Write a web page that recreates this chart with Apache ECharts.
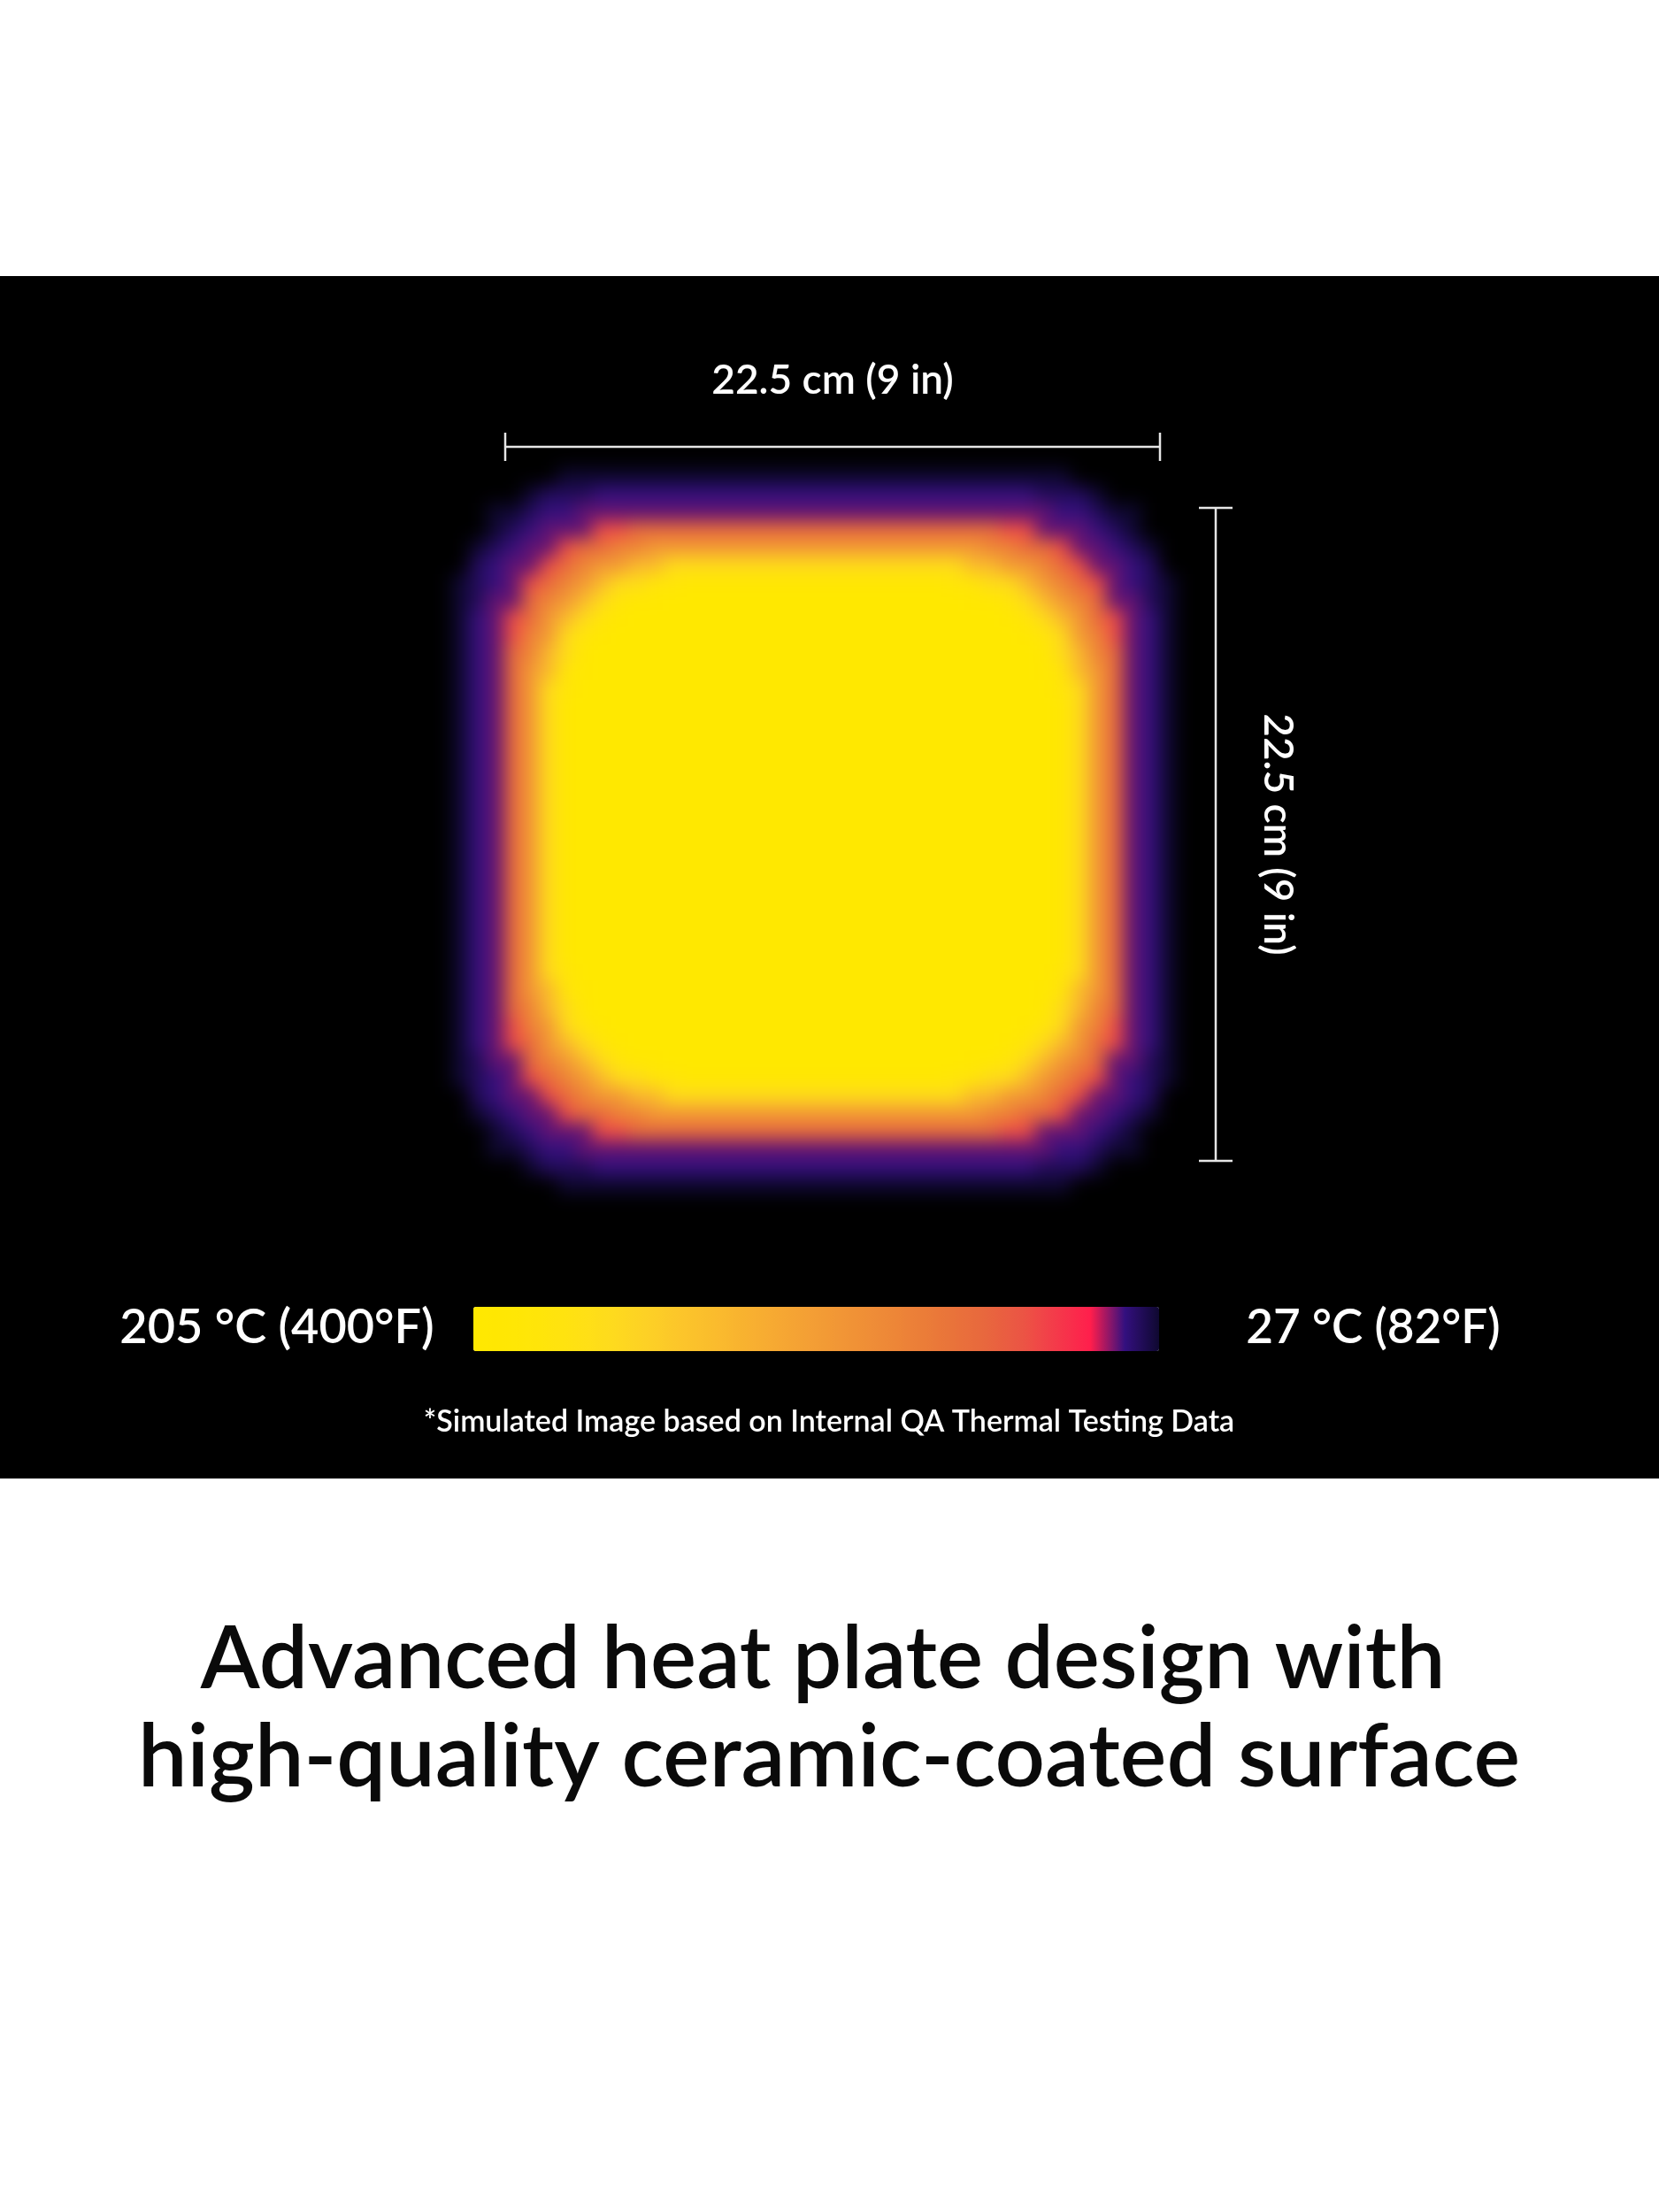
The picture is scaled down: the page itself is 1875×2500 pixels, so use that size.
<!DOCTYPE html>
<html>
<head>
<meta charset="utf-8">
<script src="https://cdn.jsdelivr.net/npm/echarts@6/dist/echarts.min.js"></script>
<style>
  html, body { margin: 0; padding: 0; background: #ffffff; }
  #main { position: absolute; left: 0; top: 0; width: 1875px; height: 2500px; }
  #heat { position: absolute; left: 450px; top: 470px; width: 940px; height: 940px;
          filter: blur(10px); pointer-events: none; }
</style>
</head>
<body>
<div id="main"></div>
<div id="heat"></div>
<script>
// ---------------- data ----------------
const tempMaxC = 205;
const tempMinC = 27;
const scaleLabels = ['205 °C (400°F)', '27 °C (82°F)'];
const plateWidthCm = 22.5;
const plateHeightCm = 22.5;
const widthLabel = '22.5 cm (9 in)';
const heightLabel = '22.5 cm (9 in)';
const footnote = '*Simulated Image based on Internal QA Thermal Testing Data';
const headline = ['Advanced heat plate design with', 'high-quality ceramic-coated surface'];

// colour scale, from coldest (27 °C) to hottest (205 °C)
const palette = ['#0f0830', '#33107f', '#ff1e4c', '#f43a4a', '#eb5544', '#e8663e', '#e9733a',
                 '#eb7e38', '#ee8937', '#f09336', '#f39d35', '#f6a733', '#f8b130', '#fabc2d',
                 '#fcc62a', '#fdd125', '#fedb1d', '#ffe113', '#ffe50a', '#ffe704', '#ffe800'];

// temperature (°C) of each level code
const levelTemps = { h: 27, z: 32, a: 36, b: 38, c: 38, d: 60, e: 75, f: 95, g: 112,
                     i: 140, j: 170, k: 188, m: 200, Y: 205 };

// plate surface, one string per row of 20 px cells ('.' = no plate)
const row00 = '......' + 'hhhhhhhhhh' + 'hhhhhhhhhh' + 'hhhhhhhhh' + '......';
const row01 = '....' + 'h' + 'zzz' + 'aaaaaaaaaa' + 'aaaaaaaaaa' + 'aaaaa' + 'zzz' + 'h' + '....';
const row02 = '..' + 'hh' + 'z' + 'aa' + 'bb' + 'cccccccccc' + 'cccccccccc' + 'ccc' + 'bb' + 'aa' + 'z' + 'hh' + '..';
const row03 = '..' + 'h' + 'z' + 'a' + 'b' + 'cc' + 'dd' + 'eeeeeeeeee' + 'eeeeeeeeee' + 'e' + 'dd' + 'cc' + 'b' + 'a' + 'z' + 'h' + '..';
const row04 = '.' + 'h' + 'z' + 'a' + 'b' + 'c' + 'd' + 'ee' + 'ff' + 'gggggggggg' + 'ggggggggg' + 'ff' + 'ee' + 'd' + 'c' + 'b' + 'a' + 'z' + 'h' + '.';
const row05 = '.' + 'z' + 'abcdef' + 'gg' + 'ii' + 'jjjjjjjjjj' + 'jjjjjjj' + 'ii' + 'gg' + 'fedcba' + 'z' + '.';
const row06 = 'h' + 'z' + 'acdefgi' + 'jj' + 'kk' + 'mmmmmmmmmm' + 'mmmmm' + 'kk' + 'jj' + 'igfedca' + 'z' + 'h';
const row07 = 'h' + 'z' + 'bcefgijk' + 'mm' + 'YYYYYYYYYY' + 'YYYYYYY' + 'mm' + 'kjigfecb' + 'z' + 'h';
const row08 = 'habdegijkm' + 'YYYYYYYYYY' + 'YYYYYYYYYY' + 'Y' + 'mkjigedbah';
const row09 = 'hacdfgjkm' + 'YYYYYYYYYY' + 'YYYYYYYYYY' + 'YYY' + 'mkjgfdcah';
const row10 = 'hacefijm' + 'YYYYYYYYYY' + 'YYYYYYYYYY' + 'YYYYY' + 'mjifecah';
const row11 = 'hacegikm' + 'YYYYYYYYYY' + 'YYYYYYYYYY' + 'YYYYY' + 'mkigecah';
const row12 = 'hacegjk' + 'YYYYYYYYYY' + 'YYYYYYYYYY' + 'YYYYYYY' + 'kjgecah';
const rowMid = 'hacegjm' + 'YYYYYYYYYY' + 'YYYYYYYYYY' + 'YYYYYYY' + 'mjgecah';

const plateRows = [
  row00, row01, row02, row03, row04, row05, row06, row07, row08, row09, row10, row11, row12,
  rowMid, rowMid, rowMid, rowMid, rowMid, rowMid, rowMid, rowMid,
  rowMid, rowMid, rowMid, rowMid, rowMid, rowMid, rowMid,
  row12, row11, row10, row09, row08, row07, row06, row05, row04, row03, row02, row01, row00
];

// ---------------- heat plate ----------------
const nCols = plateRows[0].length;
const colCats = [];
for (let c = 0; c < nCols; c++) colCats.push(String(c));
const rowCats = plateRows.map((_, r) => String(r));
const heatData = [];
plateRows.forEach((row, r) => {
  for (let c = 0; c < row.length; c++) {
    const ch = row[c];
    if (ch !== '.') heatData.push([c, r, levelTemps[ch]]);
  }
});

const heat = echarts.init(document.getElementById('heat'), null, { renderer: 'canvas' });
heat.setOption({
  animation: false,
  grid: { left: 60, top: 59, width: 820, height: 820 },
  xAxis: { type: 'category', data: colCats, show: false },
  yAxis: { type: 'category', data: rowCats, inverse: true, show: false },
  visualMap: { show: false, min: tempMinC, max: tempMaxC, dimension: 2, seriesIndex: 0,
               inRange: { color: palette } },
  series: [{ type: 'heatmap', data: heatData, itemStyle: { borderWidth: 0 },
             emphasis: { disabled: true }, silent: true }]
});

// ---------------- main figure ----------------
const FONT = 'Lato';
const dimColor = '#e6e6e6';
const main = echarts.init(document.getElementById('main'), null, { renderer: 'canvas' });
main.setOption({
  animation: false,
  backgroundColor: '#ffffff',
  graphic: [{ type: 'rect', silent: true, z: -10,
              shape: { x: 0, y: 312, width: 1875, height: 1359 }, style: { fill: '#000000' } }],
  title: [
    { text: scaleLabels[0], left: 313, top: 1501, textAlign: 'center', textVerticalAlign: 'middle', padding: 0,
      textStyle: { color: '#ffffff', fontSize: 54, fontWeight: 600, fontFamily: FONT } },
    { text: scaleLabels[1], left: 1552, top: 1501, textAlign: 'center', textVerticalAlign: 'middle', padding: 0,
      textStyle: { color: '#ffffff', fontSize: 53, fontWeight: 600, fontFamily: FONT } },
    { text: footnote, left: 937, top: 1607, textAlign: 'center', textVerticalAlign: 'middle', padding: 0,
      textStyle: { color: '#ffffff', fontSize: 34, fontWeight: 600, fontFamily: FONT } },
    { text: headline[0], left: 930, top: 1876, textAlign: 'center', textVerticalAlign: 'middle', padding: 0,
      textStyle: { color: '#0a0a0a', fontSize: 98, fontWeight: 600, fontFamily: FONT } },
    { text: headline[1], left: 937, top: 1987, textAlign: 'center', textVerticalAlign: 'middle', padding: 0,
      textStyle: { color: '#0a0a0a', fontSize: 99, fontWeight: 600, fontFamily: FONT } }
  ],
  grid: [
    { left: 571, top: 489, width: 740, height: 32 },
    { left: 1355, top: 574, width: 38, height: 738 }
  ],
  xAxis: [
    { gridIndex: 0, type: 'value', min: 0, max: plateWidthCm, position: 'top',
      name: widthLabel, nameLocation: 'middle', nameGap: 36,
      nameTextStyle: { color: '#ffffff', fontSize: 46, fontWeight: 600, fontFamily: FONT },
      axisLine: { show: false }, axisTick: { show: false }, axisLabel: { show: false }, splitLine: { show: false } },
    { gridIndex: 1, type: 'value', min: -1, max: 1, show: false }
  ],
  yAxis: [
    { gridIndex: 0, type: 'value', min: -1, max: 1, show: false },
    { gridIndex: 1, type: 'value', min: 0, max: plateHeightCm, inverse: true, position: 'right',
      name: heightLabel, nameLocation: 'middle', nameRotate: -90, nameGap: 28,
      nameTextStyle: { color: '#ffffff', fontSize: 46, fontWeight: 600, fontFamily: FONT },
      axisLine: { show: false }, axisTick: { show: false }, axisLabel: { show: false }, splitLine: { show: false } }
  ],
  visualMap: {
    type: 'continuous', show: true, seriesIndex: [], min: tempMinC, max: tempMaxC,
    orient: 'horizontal', inverse: true, calculable: false, hoverLink: false,
    left: 535, top: 1477, itemWidth: 50, itemHeight: 775, padding: 0, text: null,
    inRange: { color: palette }
  },
  series: [
    { type: 'line', xAxisIndex: 0, yAxisIndex: 0, silent: true,
      data: [[0, 0], [plateWidthCm, 0]],
      symbol: 'rect', symbolSize: [2.5, 32],
      lineStyle: { color: dimColor, width: 2.5 }, itemStyle: { color: dimColor } },
    { type: 'line', xAxisIndex: 1, yAxisIndex: 1, silent: true,
      data: [[0, 0], [0, plateHeightCm]],
      symbol: 'rect', symbolSize: [38, 2.5],
      lineStyle: { color: dimColor, width: 2.5 }, itemStyle: { color: dimColor } }
  ]
});
</script>
</body>
</html>
